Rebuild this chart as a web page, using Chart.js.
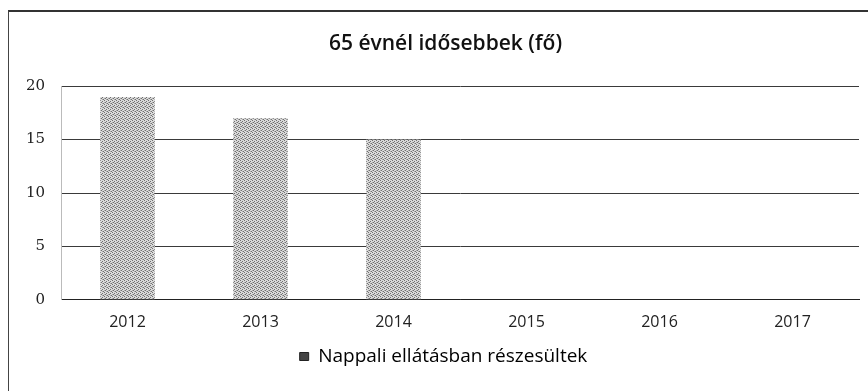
<!DOCTYPE html>
<html>
<head>
<meta charset="utf-8">
<script src="https://cdn.jsdelivr.net/npm/chart.js@4"></script>
<style>
  html, body { margin: 0; padding: 0; background: #fff; }
  #wrap { position: absolute; left: 0; top: 0; width: 868px; height: 391px; }
  #frame { position: absolute; left: 8px; top: 10px; width: 870px; height: 400px;
           border-left: 1px solid #444; border-top: 2px solid #333; }
</style>
</head>
<body>
<div id="wrap">
  <div id="frame"></div>
  <canvas id="chart-elderly" width="868" height="391"></canvas>
</div>
<script>
const years = ['2012', '2013', '2014', '2015', '2016', '2017'];
const dayCare = [19, 17, 15, null, null, null];
const yTicks = [0, 5, 10, 15, 20];

// stippled grey fill like a printed bar
function stipple() {
  const c = document.createElement('canvas');
  c.width = 4; c.height = 4;
  const g = c.getContext('2d');
  g.fillStyle = '#dadada';
  g.fillRect(0, 0, 4, 4);
  g.fillStyle = '#707070';
  [[0, 0], [2, 1], [1, 2], [3, 3]].forEach(([x, y]) => g.fillRect(x, y, 1, 1));
  g.fillStyle = '#a8a8a8';
  [[2, 3], [0, 2]].forEach(([x, y]) => g.fillRect(x, y, 1, 1));
  return g.createPattern(c, 'repeat');
}

// the frame runs off the right edge, so title and legend sit a bit right of canvas centre
const nudgeRight = {
  id: 'nudgeRight',
  beforeDraw(chart) {
    const shift = (box, dx) => { if (box) { box.left += dx; box.right += dx; } };
    shift(chart.titleBlock, 16);
    shift(chart.legend, 14);
  }
};

const ctx = document.getElementById('chart-elderly').getContext('2d');
const fill = stipple();

new Chart(ctx, {
  type: 'bar',
  data: {
    labels: years,
    datasets: [{
      label: 'Nappali ellátásban részesültek',
      data: dayCare,
      backgroundColor: fill,
      borderWidth: 0,
      categoryPercentage: 1,
      barPercentage: 0.41
    }]
  },
  plugins: [nudgeRight],
  options: {
    responsive: false,
    animation: false,
    layout: { padding: { left: 0, right: 9, top: 0, bottom: 15 } },
    plugins: {
      title: {
        display: true,
        text: '65 évnél idősebbek (fő)',
        color: '#111',
        font: { family: 'Open Sans', size: 21, weight: '600' },
        padding: { top: 31, bottom: 30 }
      },
      legend: {
        position: 'bottom',
        labels: {
          color: '#222',
          font: { family: 'Open Sans', size: 19 },
          boxWidth: 9,
          boxHeight: 8,
          padding: 2,
          generateLabels: chart => [{
            text: chart.data.datasets[0].label,
            fillStyle: '#444',
            strokeStyle: '#222',
            lineWidth: 1,
            datasetIndex: 0
          }]
        }
      },
      tooltip: { enabled: false }
    },
    scales: {
      x: {
        grid: { display: false, drawTicks: false },
        border: { color: '#222', width: 1 },
        ticks: { color: '#222', font: { family: 'Open Sans', size: 16 }, padding: 13 }
      },
      y: {
        min: 0,
        max: 20,
        afterBuildTicks: scale => { scale.ticks = yTicks.map(v => ({ value: v })); },
        afterFit: scale => { scale.width = 61; },
        grid: { color: '#3a3a3a', lineWidth: 1, drawTicks: false },
        border: { display: true, color: '#bbb', width: 1 },
        ticks: { color: '#222', font: { family: 'DejaVu Serif', size: 15 }, padding: 16 }
      }
    }
  }
});
</script>
</body>
</html>
